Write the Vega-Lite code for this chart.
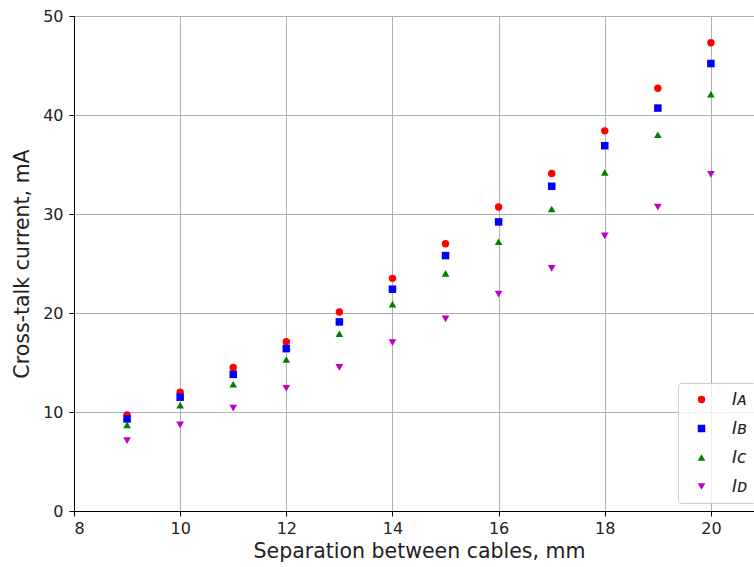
{
  "$schema": "https://vega.github.io/schema/vega-lite/v6.json",
  "width": 690,
  "height": 495,
  "autosize": {"type": "none"},
  "padding": {"left": 74, "top": 16, "right": 0, "bottom": 56},
  "background": "white",
  "config": {
    "font": "DejaVu Sans",
    "view": {"stroke": "black", "strokeWidth": 1}
  },
  "data": {"values": [
    {"x": 9, "s": "A", "v": 9.7}, {"x": 9, "s": "B", "v": 9.3}, {"x": 9, "s": "C", "v": 8.7}, {"x": 9, "s": "D", "v": 7.1},
    {"x": 10, "s": "A", "v": 12.0}, {"x": 10, "s": "B", "v": 11.5}, {"x": 10, "s": "C", "v": 10.7}, {"x": 10, "s": "D", "v": 8.7},
    {"x": 11, "s": "A", "v": 14.5}, {"x": 11, "s": "B", "v": 13.8}, {"x": 11, "s": "C", "v": 12.8}, {"x": 11, "s": "D", "v": 10.4},
    {"x": 12, "s": "A", "v": 17.1}, {"x": 12, "s": "B", "v": 16.4}, {"x": 12, "s": "C", "v": 15.3}, {"x": 12, "s": "D", "v": 12.4},
    {"x": 13, "s": "A", "v": 20.1}, {"x": 13, "s": "B", "v": 19.1}, {"x": 13, "s": "C", "v": 17.9}, {"x": 13, "s": "D", "v": 14.5},
    {"x": 14, "s": "A", "v": 23.5}, {"x": 14, "s": "B", "v": 22.4}, {"x": 14, "s": "C", "v": 20.9}, {"x": 14, "s": "D", "v": 17.0},
    {"x": 15, "s": "A", "v": 27.0}, {"x": 15, "s": "B", "v": 25.8}, {"x": 15, "s": "C", "v": 24.0}, {"x": 15, "s": "D", "v": 19.4},
    {"x": 16, "s": "A", "v": 30.7}, {"x": 16, "s": "B", "v": 29.2}, {"x": 16, "s": "C", "v": 27.2}, {"x": 16, "s": "D", "v": 21.9},
    {"x": 17, "s": "A", "v": 34.1}, {"x": 17, "s": "B", "v": 32.8}, {"x": 17, "s": "C", "v": 30.5}, {"x": 17, "s": "D", "v": 24.5},
    {"x": 18, "s": "A", "v": 38.4}, {"x": 18, "s": "B", "v": 36.9}, {"x": 18, "s": "C", "v": 34.2}, {"x": 18, "s": "D", "v": 27.8},
    {"x": 19, "s": "A", "v": 42.7}, {"x": 19, "s": "B", "v": 40.7}, {"x": 19, "s": "C", "v": 38.0}, {"x": 19, "s": "D", "v": 30.7},
    {"x": 20, "s": "A", "v": 47.3}, {"x": 20, "s": "B", "v": 45.2}, {"x": 20, "s": "C", "v": 42.1}, {"x": 20, "s": "D", "v": 34.0}
  ]},
  "mark": {"type": "point", "filled": true, "opacity": 1},
  "encoding": {
    "x": {
      "field": "x", "type": "quantitative",
      "scale": {"domain": [8, 21], "nice": false, "zero": false},
      "axis": {
        "title": "Separation between cables, mm",
        "values": [8, 10, 12, 14, 16, 18, 20],
        "grid": true, "gridColor": "#b0b0b0", "gridWidth": 1, "gridOpacity": 1,
        "domainColor": "black", "tickColor": "black", "tickSize": 5,
        "labelFontSize": 16, "labelColor": "#222222", "labelPadding": 4,
        "titleFontSize": 20.5, "titleFontWeight": "normal", "titleColor": "#222222", "titlePadding": 5
      }
    },
    "y": {
      "field": "v", "type": "quantitative",
      "scale": {"domain": [0, 50], "nice": false},
      "axis": {
        "title": "Cross-talk current, mA",
        "values": [0, 10, 20, 30, 40, 50],
        "grid": true, "gridColor": "#b0b0b0", "gridWidth": 1, "gridOpacity": 1,
        "domainColor": "black", "tickColor": "black", "tickSize": 5,
        "labelFontSize": 16, "labelColor": "#222222", "labelPadding": 6,
        "titleFontSize": 20.5, "titleFontWeight": "normal", "titleColor": "#222222", "titlePadding": 10
      }
    },
    "color": {
      "field": "s", "type": "nominal",
      "scale": {"domain": ["A", "B", "C", "D"], "range": ["#ff0000", "#0000ff", "#008000", "#bf00bf"]},
      "legend": {
        "title": null,
        "orient": "bottom-right",
        "offset": 8,
        "labelExpr": "'I' + (datum.label == 'A' ? 'ᴀ' : datum.label == 'B' ? 'ʙ' : datum.label == 'C' ? 'ᴄ' : 'ᴅ')",
        "labelFontSize": 17, "labelFontStyle": "italic", "labelColor": "#222222", "labelOffset": 22,
        "symbolOffset": 7,
        "rowPadding": 11,
        "padding": 8,
        "strokeColor": "#cccccc", "fillColor": "rgba(255,255,255,0.8)", "cornerRadius": 3
      }
    },
    "shape": {
      "field": "s", "type": "nominal",
      "scale": {"domain": ["A", "B", "C", "D"], "range": ["circle", "square", "triangle-up", "triangle-down"]},
      "legend": null
    },
    "size": {
      "field": "s", "type": "nominal",
      "scale": {"domain": ["A", "B", "C", "D"], "range": [55, 60, 100, 100]},
      "legend": null
    }
  }
}
